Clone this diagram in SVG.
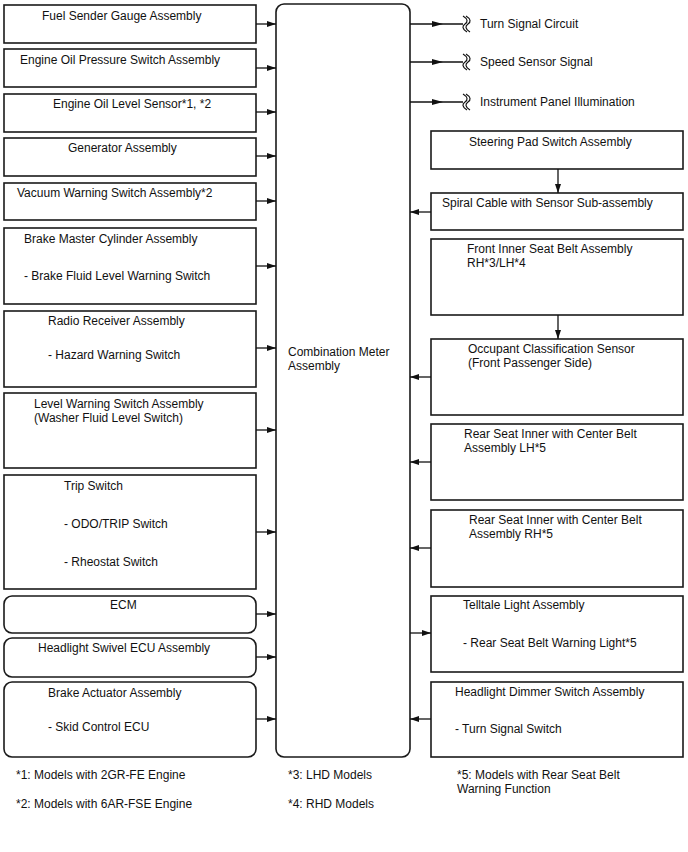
<svg xmlns="http://www.w3.org/2000/svg" width="688" height="852" viewBox="0 0 688 852">
<style>
  .box { fill: #fff; stroke: #1a1a1a; stroke-width: 1.6; }
  .t { font-family: "Liberation Sans", Arial, sans-serif; font-size: 12px; fill: #111; }
  .ln { stroke: #111; stroke-width: 1.3; fill: none; }
  .wv { stroke: #111; stroke-width: 1.2; fill: none; }
</style>
<defs>
  <marker id="ah" viewBox="0 0 9 6" refX="9" refY="3" markerWidth="9" markerHeight="6" orient="auto" markerUnits="userSpaceOnUse">
    <path d="M0,0 L9,3 L0,6 z" fill="#111"/>
  </marker>
  <marker id="am" viewBox="0 0 11 6" refX="0" refY="3" markerWidth="11" markerHeight="6" orient="auto" markerUnits="userSpaceOnUse">
    <path d="M0,0 L11,3 L0,6 z" fill="#111"/>
  </marker>
  <g id="wave">
    <path d="M0,0 C5,3 5,6 2,8 C-1,10 -1,13 4,16" />
    <path d="M3,0 C8,3 8,6 5,8 C2,10 2,13 7,16" />
  </g>
</defs>

<!-- Center -->
<g id="combination-meter">
  <rect class="box" x="276" y="4" width="134" height="753" rx="8"/>
  <text class="t" x="288" y="356">Combination Meter</text>
  <text class="t" x="288" y="370">Assembly</text>
</g>

<!-- Left column -->
<g id="fuel-sender">
  <rect class="box" x="4" y="5" width="252" height="38"/>
  <text class="t" x="42" y="20">Fuel Sender Gauge Assembly</text>
</g>
<g id="oil-pressure">
  <rect class="box" x="4" y="49" width="252" height="38"/>
  <text class="t" x="20" y="64">Engine Oil Pressure Switch Assembly</text>
</g>
<g id="oil-level">
  <rect class="box" x="4" y="94" width="252" height="38"/>
  <text class="t" x="53" y="108">Engine Oil Level Sensor*1, *2</text>
</g>
<g id="generator">
  <rect class="box" x="4" y="138" width="252" height="38"/>
  <text class="t" x="68" y="152">Generator Assembly</text>
</g>
<g id="vacuum-warning">
  <rect class="box" x="4" y="183" width="252" height="37"/>
  <text class="t" x="17" y="197">Vacuum Warning Switch Assembly*2</text>
</g>
<g id="brake-master">
  <rect class="box" x="4" y="228" width="252" height="76"/>
  <text class="t" x="24" y="243">Brake Master Cylinder Assembly</text>
  <text class="t" x="24" y="280">- Brake Fluid Level Warning Switch</text>
</g>
<g id="radio-receiver">
  <rect class="box" x="4" y="311" width="252" height="76"/>
  <text class="t" x="48" y="325">Radio Receiver Assembly</text>
  <text class="t" x="48" y="359">- Hazard Warning Switch</text>
</g>
<g id="level-warning">
  <rect class="box" x="4" y="393" width="252" height="75"/>
  <text class="t" x="34" y="408">Level Warning Switch Assembly</text>
  <text class="t" x="34" y="422">(Washer Fluid Level Switch)</text>
</g>
<g id="trip-switch">
  <rect class="box" x="4" y="475" width="252" height="114"/>
  <text class="t" x="64" y="490">Trip Switch</text>
  <text class="t" x="64" y="528">- ODO/TRIP Switch</text>
  <text class="t" x="64" y="566">- Rheostat Switch</text>
</g>
<g id="ecm">
  <rect class="box" x="4" y="596" width="252" height="37" rx="8"/>
  <text class="t" x="110" y="609">ECM</text>
</g>
<g id="headlight-swivel">
  <rect class="box" x="4" y="638" width="252" height="39" rx="8"/>
  <text class="t" x="38" y="652">Headlight Swivel ECU Assembly</text>
</g>
<g id="brake-actuator">
  <rect class="box" x="4" y="682" width="252" height="75" rx="8"/>
  <text class="t" x="48" y="697">Brake Actuator Assembly</text>
  <text class="t" x="48" y="731">- Skid Control ECU</text>
</g>

<!-- Right column -->
<g id="turn-signal-circuit">
  <use href="#wave" x="463" y="16" class="wv"/>
  <text class="t" x="480" y="28">Turn Signal Circuit</text>
</g>
<g id="speed-sensor-signal">
  <use href="#wave" x="463" y="54" class="wv"/>
  <text class="t" x="480" y="66">Speed Sensor Signal</text>
</g>
<g id="instrument-panel-illumination">
  <use href="#wave" x="463" y="94" class="wv"/>
  <text class="t" x="480" y="106">Instrument Panel Illumination</text>
</g>
<g id="steering-pad">
  <rect class="box" x="431" y="131" width="252" height="38"/>
  <text class="t" x="469" y="146">Steering Pad Switch Assembly</text>
</g>
<g id="spiral-cable">
  <rect class="box" x="431" y="193" width="252" height="37"/>
  <text class="t" x="442" y="207">Spiral Cable with Sensor Sub-assembly</text>
</g>
<g id="front-inner-seat-belt">
  <rect class="box" x="431" y="239" width="252" height="76"/>
  <text class="t" x="467" y="253">Front Inner Seat Belt Assembly</text>
  <text class="t" x="467" y="267">RH*3/LH*4</text>
</g>
<g id="occupant-classification">
  <rect class="box" x="431" y="339" width="252" height="76"/>
  <text class="t" x="468" y="353">Occupant Classification Sensor</text>
  <text class="t" x="468" y="367">(Front Passenger Side)</text>
</g>
<g id="rear-seat-lh">
  <rect class="box" x="431" y="424" width="252" height="76"/>
  <text class="t" x="464" y="438">Rear Seat Inner with Center Belt</text>
  <text class="t" x="464" y="452">Assembly LH*5</text>
</g>
<g id="rear-seat-rh">
  <rect class="box" x="431" y="510" width="252" height="77"/>
  <text class="t" x="469" y="524">Rear Seat Inner with Center Belt</text>
  <text class="t" x="469" y="538">Assembly RH*5</text>
</g>
<g id="telltale-light">
  <rect class="box" x="431" y="596" width="252" height="76"/>
  <text class="t" x="463" y="609">Telltale Light Assembly</text>
  <text class="t" x="463" y="647">- Rear Seat Belt Warning Light*5</text>
</g>
<g id="headlight-dimmer">
  <rect class="box" x="431" y="682" width="252" height="75"/>
  <text class="t" x="455" y="696">Headlight Dimmer Switch Assembly</text>
  <text class="t" x="455" y="733">- Turn Signal Switch</text>
</g>

<!-- Connectors -->
<g id="connectors">
  <line class="ln" x1="256" y1="24" x2="276" y2="24" marker-end="url(#ah)"/>
  <line class="ln" x1="256" y1="68" x2="276" y2="68" marker-end="url(#ah)"/>
  <line class="ln" x1="256" y1="112" x2="276" y2="112" marker-end="url(#ah)"/>
  <line class="ln" x1="256" y1="156" x2="276" y2="156" marker-end="url(#ah)"/>
  <line class="ln" x1="256" y1="201" x2="276" y2="201" marker-end="url(#ah)"/>
  <line class="ln" x1="256" y1="266" x2="276" y2="266" marker-end="url(#ah)"/>
  <line class="ln" x1="256" y1="348" x2="276" y2="348" marker-end="url(#ah)"/>
  <line class="ln" x1="256" y1="430" x2="276" y2="430" marker-end="url(#ah)"/>
  <line class="ln" x1="256" y1="532" x2="276" y2="532" marker-end="url(#ah)"/>
  <line class="ln" x1="256" y1="614" x2="276" y2="614" marker-end="url(#ah)"/>
  <line class="ln" x1="256" y1="657" x2="276" y2="657" marker-end="url(#ah)"/>
  <line class="ln" x1="256" y1="719" x2="276" y2="719" marker-end="url(#ah)"/>

  <polyline class="ln" points="410,24 432,24 463,24" marker-mid="url(#am)"/>
  <polyline class="ln" points="410,62 432,62 463,62" marker-mid="url(#am)"/>
  <polyline class="ln" points="410,102 432,102 463,102" marker-mid="url(#am)"/>

  <line class="ln" x1="558" y1="169" x2="558" y2="193" marker-end="url(#ah)"/>
  <line class="ln" x1="558" y1="315" x2="558" y2="339" marker-end="url(#ah)"/>

  <line class="ln" x1="431" y1="212" x2="410" y2="212" marker-end="url(#ah)"/>
  <line class="ln" x1="431" y1="377" x2="410" y2="377" marker-end="url(#ah)"/>
  <line class="ln" x1="431" y1="462" x2="410" y2="462" marker-end="url(#ah)"/>
  <line class="ln" x1="431" y1="548" x2="410" y2="548" marker-end="url(#ah)"/>
  <line class="ln" x1="410" y1="633" x2="431" y2="633" marker-end="url(#ah)"/>
  <line class="ln" x1="431" y1="719" x2="410" y2="719" marker-end="url(#ah)"/>
</g>

<!-- Footnotes -->
<g id="footnotes">
  <text class="t" x="16" y="779">*1: Models with 2GR-FE Engine</text>
  <text class="t" x="16" y="808">*2: Models with 6AR-FSE Engine</text>
  <text class="t" x="288" y="779">*3: LHD Models</text>
  <text class="t" x="288" y="808">*4: RHD Models</text>
  <text class="t" x="457" y="779">*5: Models with Rear Seat Belt</text>
  <text class="t" x="457" y="793">Warning Function</text>
</g>
</svg>
